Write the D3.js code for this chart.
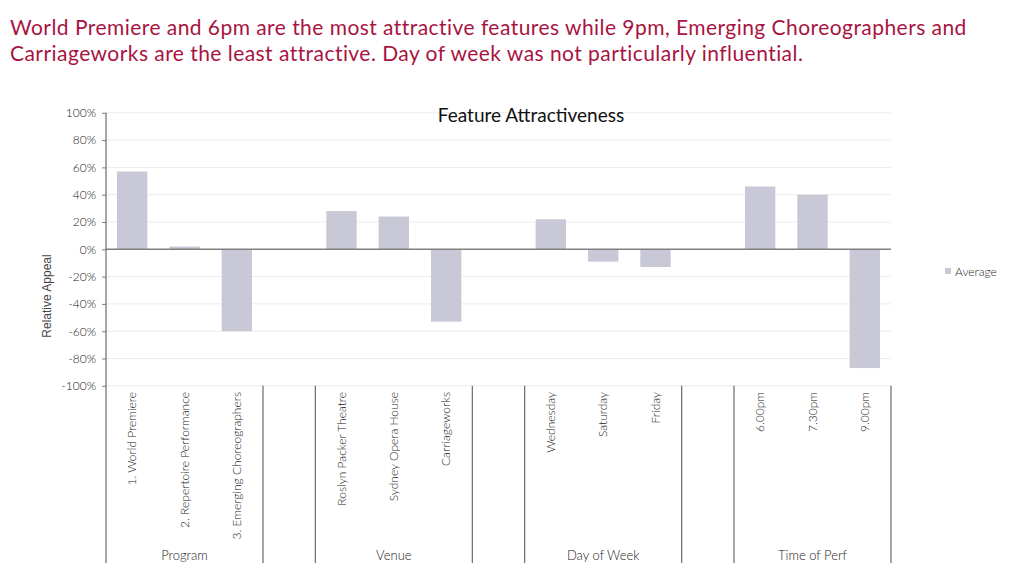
<!DOCTYPE html>
<html><head><meta charset="utf-8">
<script src="https://cdn.jsdelivr.net/npm/d3@7"></script>
<style>
html,body{margin:0;padding:0;background:#fff;}
svg{display:block;font-family:Lato,"Open Sans",sans-serif;font-weight:300;}
</style></head>
<body><svg id="c" width="1024" height="572"></svg>
<script>
const headline = [
  "World Premiere and 6pm are the most attractive features while 9pm, Emerging Choreographers and",
  "Carriageworks are the least attractive. Day of week was not particularly influential."
];
const chartTitle = "Feature Attractiveness";
const groups = ["Program", "Venue", "Day of Week", "Time of Perf"];
const categories = [
  ["1. World Premiere", "2. Repertoire Performance", "3. Emerging Choreographers"],
  ["Roslyn Packer  Theatre", "Sydney Opera House", "Carriageworks"],
  ["Wednesday", "Saturday", "Friday"],
  ["6.00pm", "7.30pm", "9.00pm"]
];
const averageValues = [
  [0.57, 0.02, -0.60],
  [0.28, 0.24, -0.53],
  [0.22, -0.09, -0.13],
  [0.46, 0.40, -0.87]
];
const yTicks = [1, 0.8, 0.6, 0.4, 0.2, 0, -0.2, -0.4, -0.6, -0.8, -1];
const yTickLabels = ["100%","80%","60%","40%","20%","0%","-20%","-40%","-60%","-80%","-100%"];
const seriesName = "Average";
const yAxisTitle = "Relative Appeal";

(function () {
const svg = d3.select("#c");
const barColor = "#c8c8d7";
const pLeft = 106, pRight = 891, pTop = 112.8, pBottom = 385.8;

const slots = [];
groups.forEach((g, gi) => {
  categories[gi].forEach((c, ci) => slots.push({key: g + "|" + c, label: c, group: gi, value: averageValues[gi][ci]}));
  if (gi < groups.length - 1) slots.push({key: "gap" + gi, label: "", group: -1, value: null});
});

const x = d3.scaleBand().domain(slots.map(d => d.key)).range([pLeft, pRight]).paddingInner(0.42).paddingOuter(0.21);
const y = d3.scaleLinear().domain([-1, 1]).range([pBottom, pTop]);
const step = x.step();
const slotStart = k => x(k) - step * x.paddingInner() / 2;
const slotEnd = k => slotStart(k) + step;

svg.append("g").selectAll("text").data(headline).join("text")
  .attr("x", 10).attr("y", (d, i) => 35 + i * 25.5)
  .attr("fill", "#a8143f").attr("font-size", 21).attr("font-weight", 400)
  .attr("letter-spacing", 0.45)
  .text(d => d);

svg.append("g").selectAll("line").data(yTicks.filter(t => t !== 0)).join("line")
  .attr("x1", pLeft).attr("x2", pRight)
  .attr("y1", d => y(d)).attr("y2", d => y(d))
  .attr("stroke", "#ececec").attr("stroke-width", 1);

svg.append("text").attr("x", 531).attr("y", 122).attr("text-anchor", "middle")
  .attr("font-size", 19).attr("font-weight", 400).attr("fill", "#111").text(chartTitle);

svg.append("g").selectAll("rect").data(slots.filter(d => d.value !== null)).join("rect")
  .attr("x", d => x(d.key)).attr("width", x.bandwidth())
  .attr("y", d => y(Math.max(0, d.value)))
  .attr("height", d => Math.abs(y(d.value) - y(0)))
  .attr("fill", barColor);

svg.append("line").attr("x1", pLeft).attr("x2", pRight).attr("y1", y(0)).attr("y2", y(0))
  .attr("stroke", "#808080").attr("stroke-width", 1.5);

const yAxis = d3.axisLeft(y).tickValues(yTicks).tickSize(4).tickPadding(6)
  .tickFormat((d, i) => yTickLabels[i]);
const yg = svg.append("g").attr("transform", `translate(${pLeft},0)`).call(yAxis);
yg.select(".domain").remove();
yg.attr("font-family", null);
yg.selectAll(".tick line").attr("stroke", "#7f7f7f");
yg.selectAll(".tick text").attr("font-size", 12).attr("fill", "#222");
svg.append("line").attr("x1", pLeft).attr("x2", pLeft).attr("y1", pTop).attr("y2", 563)
  .attr("stroke", "#6b6b6b").attr("stroke-width", 1.2);

const sepX = [];
groups.forEach((g, gi) => {
  const keys = slots.filter(d => d.group === gi).map(d => d.key);
  sepX.push(slotStart(keys[0]), slotEnd(keys[keys.length - 1]));
});
svg.append("g").selectAll("line").data(sepX.slice(1)).join("line")
  .attr("x1", d => d).attr("x2", d => d).attr("y1", pBottom).attr("y2", 563)
  .attr("stroke", "#6b6b6b").attr("stroke-width", 1.2);

svg.append("g").selectAll("text").data(slots.filter(d => d.label)).join("text")
  .attr("transform", d => `translate(${x(d.key) + x.bandwidth() / 2 + 4},392) rotate(-90)`)
  .attr("text-anchor", "end").attr("font-size", 12).attr("fill", "#222")
  .text(d => d.label);

svg.append("g").selectAll("text").data(groups).join("text")
  .attr("x", (g, gi) => (sepX[gi * 2] + sepX[gi * 2 + 1]) / 2).attr("y", 560)
  .attr("text-anchor", "middle").attr("font-size", 13).attr("fill", "#222")
  .text(d => d);

svg.append("text").attr("transform", "translate(51,296) rotate(-90)")
  .attr("text-anchor", "middle").attr("font-family", "Liberation Sans, Arial, sans-serif")
  .attr("font-weight", 400)
  .attr("font-size", 12).attr("fill", "#444").text(yAxisTitle);

svg.append("rect").attr("x", 945).attr("y", 268).attr("width", 6).attr("height", 6).attr("fill", barColor);
svg.append("text").attr("x", 955).attr("y", 276).attr("font-size", 12).attr("fill", "#222").text(seriesName);
})();
</script></body></html>
